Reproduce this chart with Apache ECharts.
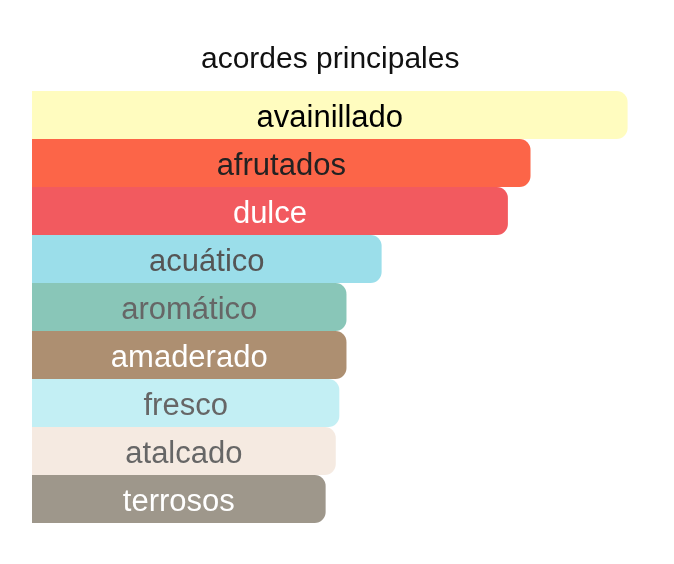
<!DOCTYPE html>
<html>
<head>
<meta charset="utf-8">
<script src="https://cdn.jsdelivr.net/npm/echarts@6/dist/echarts.min.js"></script>
<style>html,body{margin:0;padding:0;background:#fff;}#c{width:674px;height:564px;}</style>
</head>
<body>
<div id="c"></div>
<script>
const categories = ['avainillado','afrutados','dulce','acuático','aromático','amaderado','fresco','atalcado','terrosos'];
const values = [100, 83.7, 79.9, 58.7, 52.8, 52.8, 51.6, 51.0, 49.3];
const barColors = ['#FFFCBF','#FC6548','#F25A5F','#9BDEEA','#89C6B8','#AD8F71','#C3EFF4','#F5EAE1','#9E978B'];
const labelColors = ['#000000','#222222','#ffffff','#555555','#666666','#ffffff','#666666','#666666','#ffffff'];
const titleText = 'acordes principales';

const chart = echarts.init(document.getElementById('c'), null, {renderer:'canvas'});
chart.setOption({
  backgroundColor: '#ffffff',
  animation: false,
  title: {
    text: titleText,
    left: 196,
    top: 40,
    textStyle: {fontFamily: 'Liberation Sans, Arial, sans-serif', fontSize: 30, fontWeight: 'normal', color: '#111111'}
  },
  grid: {left: 32, right: 46.4, top: 91, bottom: 41, containLabel: false},
  xAxis: {type: 'value', min: 0, max: 100, show: false},
  yAxis: {type: 'category', data: categories, inverse: true, show: false},
  series: [{
    type: 'bar',
    barCategoryGap: 0,
    barWidth: '100%',
    data: values.map((v, i) => ({
      value: v,
      itemStyle: {color: barColors[i], borderRadius: [0, 11, 11, 0]},
      label: {color: labelColors[i]}
    })),
    label: {
      show: true,
      position: 'inside',
      offset: [0, 3],
      formatter: p => categories[p.dataIndex],
      fontFamily: 'Liberation Sans, Arial, sans-serif',
      fontSize: 31
    }
  }]
});
</script>
</body>
</html>
